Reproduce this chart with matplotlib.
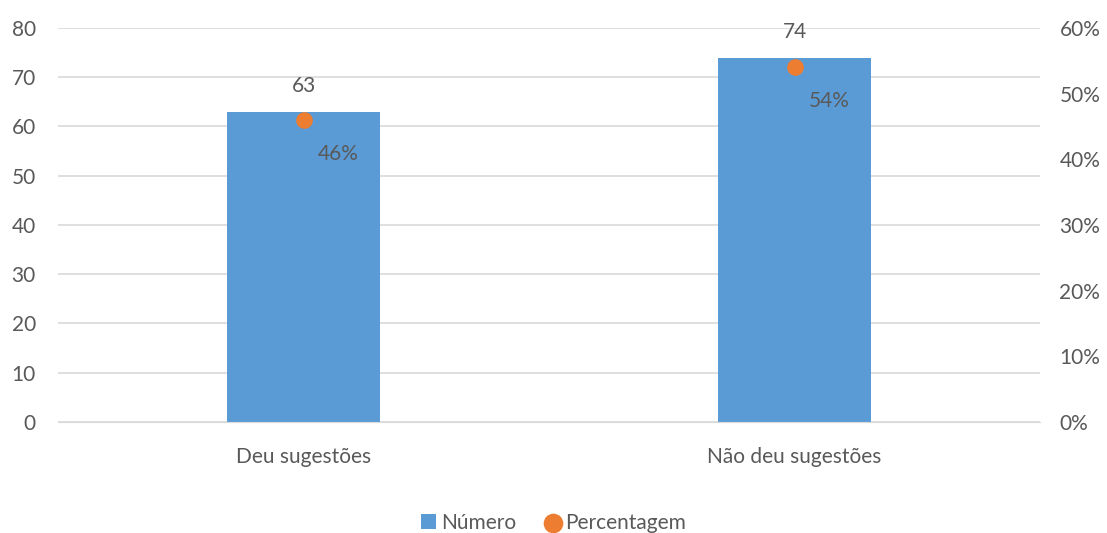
import matplotlib
matplotlib.use("Agg")
import matplotlib.pyplot as plt
from matplotlib.ticker import PercentFormatter

categories = ["Deu sugestões", "Não deu sugestões"]
numero = [63, 74]
percentagem = [0.46, 0.54]

blue = "#5B9BD5"
orange = "#ED7D31"
txt = "#595959"

plt.rcParams["font.family"] = ["Lato", "DejaVu Sans"]
fs = 15

fig = plt.figure(figsize=(11.07, 5.33), dpi=100)
ax = fig.add_axes([0.0524, 0.2083, 0.8871, 0.7392])
ax2 = ax.twinx()

x = range(len(categories))
bars = ax.bar(x, numero, width=0.31, color=blue, label="Número", zorder=2)
pts = ax2.scatter(x, percentagem, s=120, color=orange, label="Percentagem", zorder=3)

ax.set_xlim(-0.5, 1.5)
ax.set_ylim(0, 80)
ax.set_yticks(range(0, 81, 10))
ax2.set_ylim(0, 0.6)
ax2.set_yticks([i / 10 for i in range(7)])
ax2.yaxis.set_major_formatter(PercentFormatter(1.0, decimals=0))

ax.grid(axis="y", color="#D9D9D9", linewidth=1.2, zorder=0)
ax.set_axisbelow(True)
ax.set_xticks(list(x))
ax.set_xticklabels(categories)

for a in (ax, ax2):
    for s in a.spines.values():
        s.set_visible(False)
    a.tick_params(length=0, labelsize=fs, colors=txt)
ax.spines["bottom"].set_visible(True)
ax.spines["bottom"].set_color("#D9D9D9")
ax.tick_params(axis="x", pad=18)
ax.tick_params(axis="y", pad=16)
ax2.tick_params(axis="y", pad=14)
ax2.set_zorder(ax.get_zorder() + 1)
ax2.patch.set_visible(False)

for i, v in enumerate(numero):
    ax.annotate(str(v), (i, v), xytext=(0, 11), textcoords="offset points",
                ha="center", va="bottom", fontsize=fs, color=txt)
for i, p in enumerate(percentagem):
    ax2.annotate(f"{round(p * 100)}%", (i, p), xytext=(10, -17), textcoords="offset points",
                 ha="left", va="top", fontsize=fs, color=txt)

fig.legend(handles=[bars, pts], loc="lower center", bbox_to_anchor=(0.5, -0.035), ncol=2,
           frameon=False, fontsize=fs, handlelength=0.7, handletextpad=0.25, columnspacing=1.4,
           labelcolor=txt, markerscale=1.2)

fig.savefig("out.png", dpi=100)
